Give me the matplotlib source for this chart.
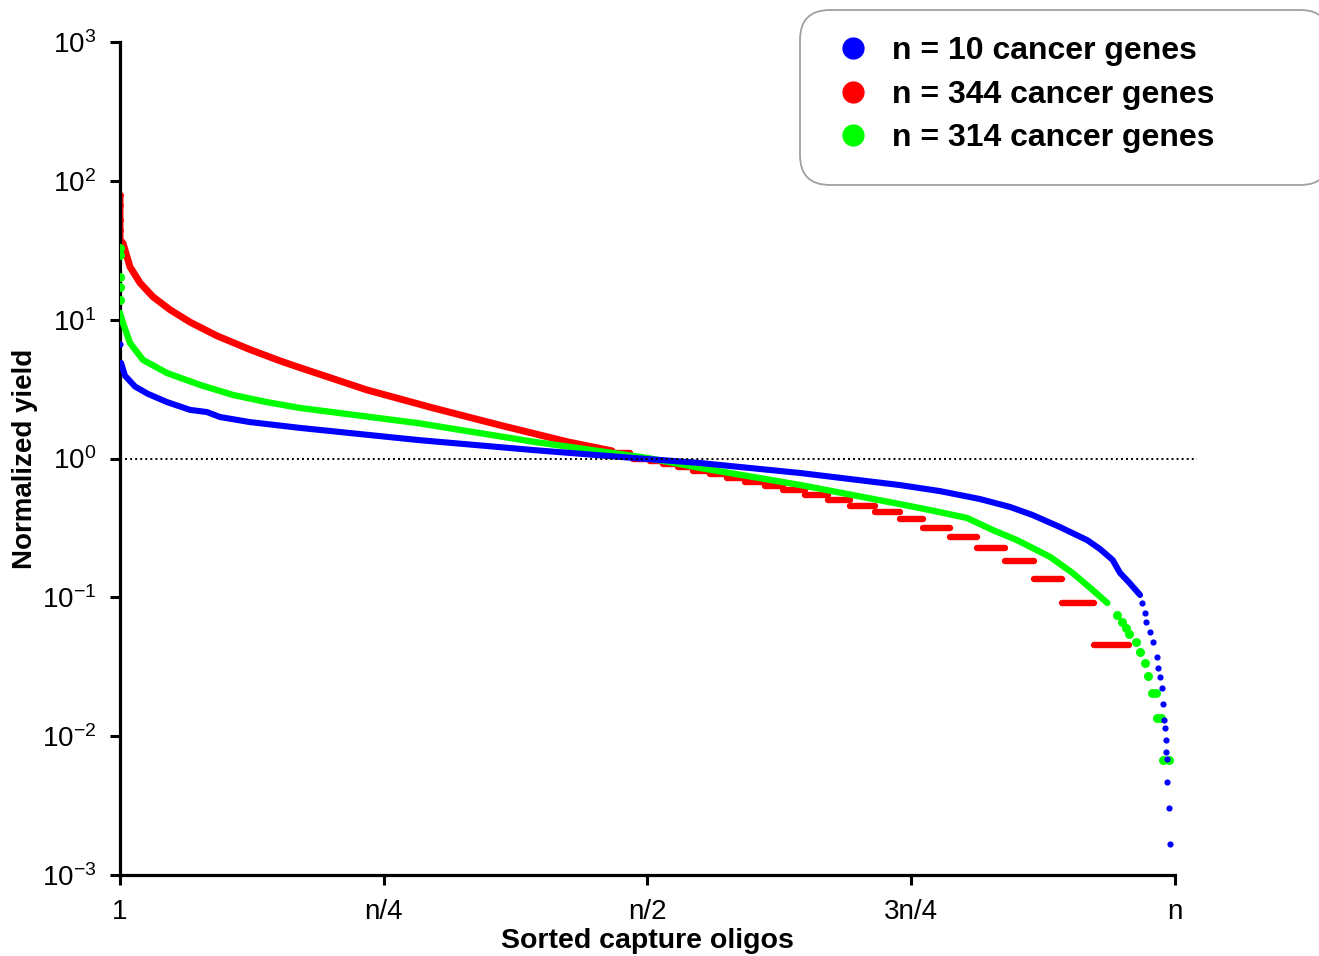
import matplotlib
matplotlib.use('Agg')
import matplotlib.pyplot as plt
from matplotlib.lines import Line2D
from matplotlib.patches import FancyBboxPatch
from matplotlib.ticker import NullLocator

plt.rcParams['font.family'] = ['Liberation Sans', 'DejaVu Sans']
plt.rcParams['mathtext.fontset'] = 'custom'
plt.rcParams['mathtext.rm'] = 'Liberation Sans'

# Sorted capture oligos, x as fraction of n; y = normalized yield
# n = 10 cancer genes (blue)
blue_x = [0.001, 0.0047, 0.0142, 0.0265, 0.0445, 0.0664, 0.0825, 0.0948, 0.123, 0.171,
          0.282, 0.392, 0.486, 0.550, 0.645, 0.739, 0.777, 0.815, 0.844, 0.865, 0.891,
          0.917, 0.929, 0.941, 0.948, 0.957, 0.967]
blue_y = [4.88, 3.95, 3.30, 2.92, 2.55, 2.24, 2.16, 1.99, 1.83, 1.66,
          1.36, 1.15, 1.01, 0.928, 0.786, 0.644, 0.583, 0.511, 0.447, 0.392, 0.321,
          0.258, 0.223, 0.186, 0.150, 0.127, 0.104]
blue_tail_x = [0.0, 0.969, 0.972, 0.973, 0.976, 0.979, 0.983, 0.984, 0.986, 0.988,
               0.989, 0.990, 0.991, 0.992, 0.992, 0.993, 0.993, 0.994, 0.995]
blue_tail_y = [6.68, 0.0910, 0.0771, 0.0664, 0.0562, 0.0476, 0.0371, 0.0310, 0.0267, 0.0222,
               0.0170, 0.0131, 0.0114, 0.00937, 0.00767, 0.00684, 0.00467, 0.00303, 0.00167]

# n = 314 cancer genes (green)
green_x = [0.0, 0.0028, 0.0095, 0.0218, 0.0445, 0.0758, 0.107, 0.139, 0.171, 0.282,
           0.392, 0.4995, 0.550, 0.645, 0.739, 0.7725, 0.803, 0.8275, 0.850, 0.867,
           0.882, 0.903, 0.922, 0.936]
green_y = [11.2, 9.47, 6.79, 5.13, 4.13, 3.39, 2.87, 2.55, 2.31, 1.80,
           1.32, 1.01, 0.855, 0.644, 0.470, 0.418, 0.373, 0.305, 0.259, 0.223,
           0.195, 0.150, 0.113, 0.0910]
green_tail_x = [0.0, 0.0, 0.0, 0.0, 0.0, 0.945, 0.950, 0.954, 0.957, 0.963, 0.967,
                0.972, 0.975, 0.978, 0.982, 0.983, 0.987, 0.989, 0.994]
green_tail_y = [32.9, 29.2, 20.3, 17.2, 13.9, 0.0746, 0.0664, 0.0601, 0.0544, 0.0477, 0.0404,
                0.0336, 0.0271, 0.0205, 0.0205, 0.0135, 0.0135, 0.00673, 0.00673]

# n = 344 cancer genes (red): continuous part, then integer read counts / median count
red_x = [0.0, 0.0, 0.0, 0.0, 0.0, 0.0028, 0.0095, 0.019, 0.0313, 0.0474, 0.0664,
         0.0919, 0.123, 0.152, 0.171, 0.234, 0.297, 0.360, 0.424, 0.4663]
red_y = [79.0, 67.0, 52.3, 44.3, 37.5, 35.6, 24.0, 18.4, 14.6, 11.8, 9.60,
         7.65, 6.10, 5.04, 4.50, 3.12, 2.31, 1.74, 1.32, 1.136]
red_median_count = 22
red_step_counts = [24, 23, 22, 21, 20, 19, 18, 17, 16, 15, 14, 13, 12, 11, 10, 9, 8, 7,
                   6, 5, 4, 3, 2, 1]
red_step_edges = [0.4673, 0.4834, 0.4863, 0.5024, 0.5147, 0.5289, 0.5431, 0.5592, 0.5754,
                  0.5924, 0.6114, 0.6284, 0.6493, 0.6711, 0.6919, 0.7156, 0.7393, 0.7611,
                  0.7867, 0.8123, 0.8389, 0.8664, 0.8929, 0.9232, 0.9564]

tick_pos = [0, 0.25, 0.5, 0.75, 1.0]
tick_lab = ['1', 'n/4', 'n/2', '3n/4', 'n']
labels = ['n = 10 cancer genes', 'n = 344 cancer genes', 'n = 314 cancer genes']
colors = ['#0000ff', '#ff0000', '#00ff00']

fig = plt.figure(figsize=(13.19, 9.56), dpi=100)
ax = fig.add_axes([120 / 1319, 1 - 875 / 956, 1077 / 1319, 833 / 956])

# red
ax.plot(red_x, red_y, color=colors[1], lw=5, solid_capstyle='round',
        solid_joinstyle='round', zorder=2)
ax.scatter(red_x[:5], red_y[:5], s=24, color=colors[1], lw=0, zorder=2)
red_levels = [c / red_median_count for c in red_step_counts]
ax.hlines(red_levels, red_step_edges[:-1], red_step_edges[1:], color=colors[1],
          lw=4.6, capstyle='round', zorder=2)

# green
ax.plot(green_x, green_y, color=colors[2], lw=4.6, solid_capstyle='round',
        solid_joinstyle='round', zorder=3)
ax.scatter(green_tail_x, green_tail_y, s=42, color=colors[2], lw=0, zorder=3)

# blue
ax.plot(blue_x, blue_y, color=colors[0], lw=4.4, solid_capstyle='round',
        solid_joinstyle='round', zorder=4)
ax.scatter(blue_tail_x, blue_tail_y, s=20, color=colors[0], lw=0, zorder=4)

ax.axhline(1, color='black', lw=1.4, linestyle=(0, (1, 1.6)), zorder=5)

ax.set_yscale('log')
ax.set_ylim(1e-3, 1e3)
ax.set_xlim(0, 1.021)
ax.yaxis.set_minor_locator(NullLocator())
ax.set_xticks(tick_pos)
ax.set_xticklabels(tick_lab)
for s in ['top', 'right']:
    ax.spines[s].set_visible(False)
for s in ['left', 'bottom']:
    ax.spines[s].set_linewidth(2.3)
ax.spines['bottom'].set_bounds(0, 1)
ax.tick_params(axis='y', length=7, width=2.2, labelsize=20, pad=10)
ax.tick_params(axis='x', length=7, width=2.2, labelsize=20, pad=10)

ax.set_xlabel('Sorted capture oligos', fontsize=20.5, fontweight='bold')
ax.xaxis.set_label_coords(0.5 / 1.021, -0.064)
ax.set_ylabel('Normalized yield', fontsize=20, fontweight='bold', labelpad=3)

box = FancyBboxPatch((800 / 1319, 1 - 185 / 956), 530 / 1319, 175 / 956,
                     boxstyle='round,pad=0,rounding_size=0.0227',
                     mutation_aspect=1319 / 956, transform=fig.transFigure,
                     facecolor='white', edgecolor='#a0a0a0', lw=1.3, zorder=10,
                     clip_on=False)
ax.add_patch(box)

handles = [Line2D([], [], marker='o', ls='none', color=c, markersize=15) for c in colors]
leg = ax.legend(handles, labels, loc='upper left', frameon=False,
                bbox_to_anchor=(837 / 1319, 1 - 36 / 956), bbox_transform=fig.transFigure,
                borderpad=0, borderaxespad=0, handlelength=1.0, handletextpad=0.72,
                labelspacing=0.43, prop={'size': 23, 'weight': 'bold'})
leg.set_zorder(11)

fig.savefig('out.png', dpi=100)
